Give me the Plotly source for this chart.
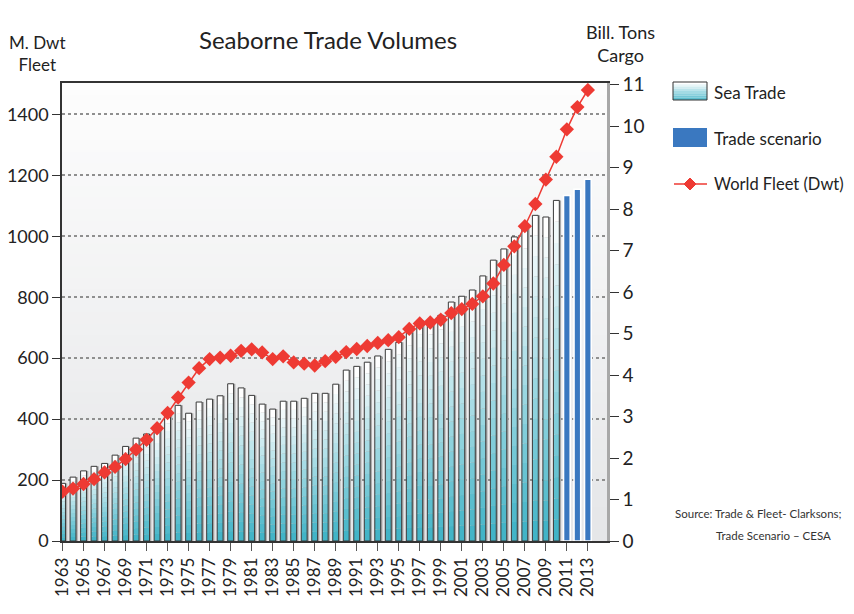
import numpy as np
import plotly.graph_objects as go

# ---------------- data ----------------
years = list(range(1963, 2014))
trade_years = list(range(1963, 2011))
sea_trade = [1.39, 1.54, 1.69, 1.80, 1.87, 2.07, 2.28, 2.48, 2.58, 2.70,
             3.03, 3.27, 3.08, 3.35, 3.42, 3.50, 3.79, 3.69, 3.51, 3.30,
             3.18, 3.37, 3.37, 3.44, 3.56, 3.56, 3.78, 4.12, 4.21, 4.31,
             4.46, 4.62, 4.79, 5.03, 5.32, 5.31, 5.44, 5.76, 5.90, 6.05,
             6.39, 6.77, 7.04, 7.33, 7.52, 7.85, 7.81, 8.21]
scenario_years = [2011, 2012, 2013]
trade_scenario = [8.33, 8.48, 8.72]
world_fleet = [162, 172, 187, 203, 225, 243, 269, 300, 332, 370,
               420, 471, 520, 567, 597, 602, 608, 624, 629, 619,
               597, 606, 586, 582, 576, 590, 604, 620, 630, 640,
               650, 659, 669, 696, 714, 717, 726, 748, 761, 778,
               803, 845, 906, 967, 1033, 1106, 1186, 1261, 1351, 1424, 1480]
left_ticks = [0, 200, 400, 600, 800, 1000, 1200, 1400]
right_ticks = list(range(0, 12))
year_ticks = years[::2]

# ---------------- layout constants ----------------
# the page body adds an 8px margin; the figure is sized so it fits the window
OFF = 8
W, H = 854 - OFF, 614 - OFF
# plot area in page pixels: x 62..607, y 83..541
PX0, PX1, PY0, PY1 = 62, 607, 83, 541
L, T = PX0 - OFF, PY0 - OFF
R, B = W - (PX1 - OFF), H - (PY1 - OFF)
PW, PH = PX1 - PX0, PY1 - PY0
FONT = "Lato, Roboto, sans-serif"
TEXT = "#222222"
RED = "#ee3a33"
BLUE = "#3a78c0"
TEAL = (66, 180, 199)


def px(xp):
    """page pixel x -> paper x"""
    return (xp - PX0) / PW


def py(yp):
    """page pixel y -> paper y"""
    return (PY1 - yp) / PH


def mix(t):
    c = [int(round(TEAL[i] + (255 - TEAL[i]) * t)) for i in range(3)]
    return f"rgb({c[0]},{c[1]},{c[2]})"


fig = go.Figure()

BW = 0.56
vals = np.array(sea_trade)
# right-side shadow of the bars
fig.add_trace(go.Bar(x=trade_years, y=sea_trade, width=BW, offset=-BW / 2 + 0.17,
                     marker=dict(color="#a9a9a9", line_width=0),
                     showlegend=False, hoverinfo="skip"))
# gradient fill (teal at the bottom to white at the top)
N = 16
for k in range(N):
    fig.add_trace(go.Bar(x=trade_years, y=vals / N, base=vals * k / N,
                         width=BW, offset=-BW / 2,
                         marker=dict(color=mix(k / (N - 1)), line_width=0),
                         showlegend=False, hoverinfo="skip"))
# outline
fig.add_trace(go.Bar(x=trade_years, y=sea_trade, width=BW, offset=-BW / 2,
                     name="Sea Trade",
                     marker=dict(color="rgba(0,0,0,0)",
                                 line=dict(color="#3a3a3a", width=1)),
                     showlegend=False))
# trade scenario
fig.add_trace(go.Bar(x=scenario_years, y=trade_scenario, width=0.64, offset=-0.32,
                     name="Trade scenario",
                     marker=dict(color=BLUE, line=dict(color="white", width=1.6)),
                     showlegend=False))
# world fleet line (left axis)
fig.add_trace(go.Scatter(x=years, y=world_fleet, yaxis="y2", mode="lines+markers",
                         name="World Fleet (Dwt)",
                         line=dict(color=RED, width=1.5),
                         marker=dict(symbol="diamond", size=11, color=RED),
                         showlegend=False))

# ---------------- background gradient ----------------
shapes = []
NS = 40
for i in range(NS):
    t = i / (NS - 1)  # 0 bottom, 1 top
    g0 = (229, 230, 232)
    c = [int(round(g0[j] + (253 - g0[j]) * t)) for j in range(3)]
    shapes.append(dict(type="rect", xref="x domain", yref="y domain",
                       x0=0, x1=1, y0=i / NS, y1=(i + 1) / NS + 0.002,
                       fillcolor=f"rgb({c[0]},{c[1]},{c[2]})", line_width=0,
                       layer="below"))

# ---------------- manual legend ----------------
bx0, bx1 = 673, 707
ns = 8
y_top, y_bot = 82, 100
for i in range(ns):
    ya = y_top + (y_bot - y_top) * i / ns
    yb = y_top + (y_bot - y_top) * (i + 1) / ns
    shapes.append(dict(type="rect", xref="paper", yref="paper",
                       x0=px(bx0), x1=px(bx1), y0=py(yb), y1=py(ya),
                       fillcolor=mix(1 - i / (ns - 1) * 0.85), line_width=0))
shapes.append(dict(type="rect", xref="paper", yref="paper",
                   x0=px(bx0), x1=px(bx1), y0=py(y_bot), y1=py(y_top),
                   line=dict(color="#333333", width=1)))
shapes.append(dict(type="rect", xref="paper", yref="paper",
                   x0=px(bx0), x1=px(bx1), y0=py(147), y1=py(128),
                   fillcolor=BLUE, line_width=0))
shapes.append(dict(type="line", xref="paper", yref="paper",
                   x0=px(674), x1=px(707), y0=py(184), y1=py(184),
                   line=dict(color=RED, width=1.5)))
cx, cy, d = 690, 184, 6
shapes.append(dict(type="path", xref="paper", yref="paper",
                   path=(f"M {px(cx)} {py(cy - d)} L {px(cx + d)} {py(cy)} "
                         f"L {px(cx)} {py(cy + d)} L {px(cx - d)} {py(cy)} Z"),
                   fillcolor=RED, line=dict(color=RED, width=1)))

annotations = []


def text(s, x, y, size, xanchor="left", color=TEXT, align="left"):
    annotations.append(dict(text=s, xref="paper", yref="paper", x=px(x), y=py(y),
                            xanchor=xanchor, yanchor="middle", showarrow=False,
                            align=align,
                            font=dict(family=FONT, size=size, color=color)))


text("Seaborne Trade Volumes", 328, 40, 24, "center")
text("M. Dwt<br>Fleet", 37, 54, 17, "center", align="center")
text("Bill. Tons<br>Cargo", 620, 43, 18, "center", align="center")
text("Sea Trade", 712, 92, 17)
text("Trade scenario", 712, 138, 17)
text("World Fleet (Dwt)", 712, 184, 16.5)
text("Source: Trade &amp; Fleet- Clarksons;", 673, 513, 11.5, color="#333333")
text("Trade Scenario \u2013 CESA", 714, 535, 11.5, color="#333333")

fig.update_layout(
    width=W, height=H,
    margin=dict(l=L, r=R, t=T, b=B, autoexpand=False),
    paper_bgcolor="white", plot_bgcolor="rgba(0,0,0,0)",
    barmode="overlay",
    showlegend=False,
    font=dict(family=FONT, color=TEXT),
    shapes=shapes, annotations=annotations,
    xaxis=dict(range=[1962.95, 2014.82], tickmode="array", tickvals=year_ticks,
               ticktext=[str(y) for y in year_ticks], tickangle=-90,
               tickfont=dict(size=17, family=FONT, color=TEXT),
               showline=True, linecolor="#333333", linewidth=1.5, mirror=True,
               ticks="outside", ticklen=8, tickcolor="#555555",
               showgrid=False, zeroline=False, automargin=False),
    yaxis=dict(side="right", range=[0, 11.04], tickmode="array", tickvals=right_ticks,
               tickfont=dict(size=19, family=FONT, color=TEXT),
               showline=True, linecolor="#a8a8a8", linewidth=2.5,
               ticks="outside", ticklen=9, tickcolor="#333333",
               showgrid=False, zeroline=False, automargin=False),
    yaxis2=dict(side="left", overlaying="y", range=[0, 1503], tickmode="array",
                tickvals=left_ticks,
                tickfont=dict(size=18, family=FONT, color=TEXT),
                showline=True, linecolor="#333333", linewidth=1.5,
                ticks="outside", ticklen=8, tickcolor="#333333",
                showgrid=True, gridcolor="#8f8f8f", griddash="dot", gridwidth=2,
                zeroline=False, automargin=False),
)

fig.write_html("out.html")
